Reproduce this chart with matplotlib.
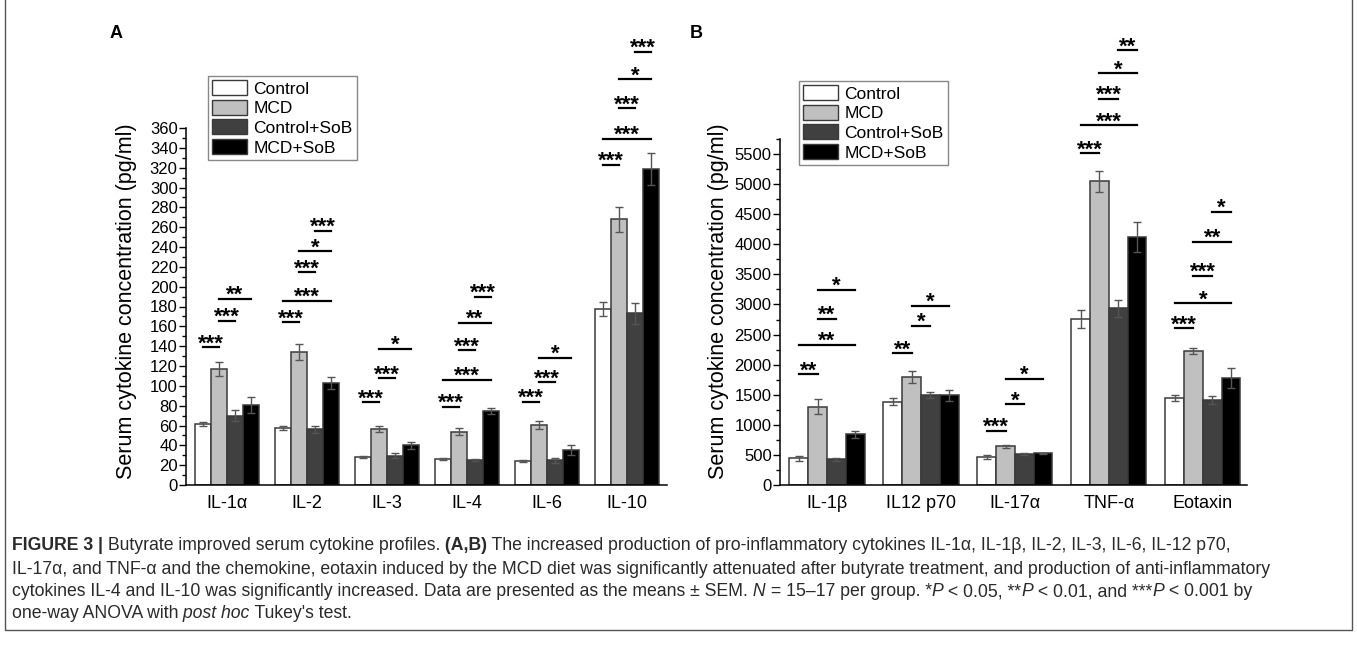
import numpy as np
import matplotlib
matplotlib.use("Agg")
from matplotlib import pyplot as plt
from matplotlib.patches import Patch
from matplotlib.lines import Line2D

# ---- data ----
groups = ["Control", "MCD", "Control+SoB", "MCD+SoB"]
colors = ["#ffffff", "#c0c0c0", "#404040", "#000000"]

cyto_a = ["IL-1α", "IL-2", "IL-3", "IL-4", "IL-6", "IL-10"]
mean_a = [
    [62, 57, 28.5, 26, 24.3, 177.5],     # Control
    [117, 134, 56, 53.6, 60.4, 268],     # MCD
    [70, 56, 29.4, 25.5, 25, 173],       # Control+SoB
    [81, 103, 40, 75, 35.4, 319],        # MCD+SoB
]
sem_a = [
    [2, 2, 1, 1, 1, 6.7],
    [7.5, 7.8, 3, 3.4, 4.4, 12.8],
    [5.5, 4, 2.5, 1, 2.5, 10.8],
    [8, 5.7, 3.4, 3, 5, 16],
]
# (cytokine index, group i, group j, line height, label)
sig_a = [
    (0, 0, 1, 139, "***"), (0, 1, 2, 165.7, "***"), (0, 1, 3, 188, "**"),
    (1, 0, 1, 164, "***"), (1, 0, 3, 186, "***"), (1, 1, 2, 214.5, "***"),
    (1, 1, 3, 235.7, "*"), (1, 2, 3, 256.6, "***"),
    (2, 0, 1, 83.5, "***"), (2, 1, 2, 107.4, "***"), (2, 1, 3, 137.4, "*"),
    (3, 0, 1, 79, "***"), (3, 0, 3, 106, "***"), (3, 1, 2, 135.7, "***"),
    (3, 1, 3, 163.3, "**"), (3, 2, 3, 190, "***"),
    (4, 0, 1, 84, "***"), (4, 1, 2, 103.7, "***"), (4, 1, 3, 128, "*"),
    (5, 0, 1, 323, "***"), (5, 0, 3, 349, "***"), (5, 1, 2, 380, "***"),
    (5, 1, 3, 409, "*"), (5, 2, 3, 437, "***"),
]

cyto_b = ["IL-1β", "IL12 p70", "IL-17α", "TNF-α", "Eotaxin"]
mean_b = [
    [443, 1384, 470, 2763, 1445],
    [1301, 1789, 642, 5050, 2226],
    [427, 1495, 515, 2935, 1412],
    [842, 1490, 526, 4120, 1777],
]
sem_b = [
    [39, 55, 35, 150, 53],
    [125, 100, 20, 174, 55],
    [25, 52, 15, 138, 64],
    [63, 88, 10, 250, 160],
]
sig_b = [
    (0, 0, 1, 1838, "**"), (0, 0, 3, 2326, "**"), (0, 1, 2, 2757, "**"), (0, 1, 3, 3239, "*"),
    (1, 0, 1, 2187, "**"), (1, 1, 2, 2641, "*"), (1, 1, 3, 2979, "*"),
    (2, 0, 1, 902, "***"), (2, 1, 2, 1340, "*"), (2, 1, 3, 1761, "*"),
    (3, 0, 1, 5510, "***"), (3, 0, 3, 5975, "***"), (3, 1, 2, 6423, "***"),
    (3, 1, 3, 6839, "*"), (3, 2, 3, 7221, "**"),
    (4, 0, 1, 2602, "***"), (4, 0, 3, 3018, "*"), (4, 1, 2, 3472, "***"),
    (4, 1, 3, 4042, "**"), (4, 2, 3, 4535, "*"),
]

caption = [
    [("FIGURE 3 |", "bold"), (" Butyrate improved serum cytokine profiles.", "normal"), (" (A,B)", "bold"),
     (" The increased production of pro-inflammatory cytokines IL-1α, IL-1β, IL-2, IL-3, IL-6, IL-12 p70,", "normal")],
    [("IL-17α, and TNF-α and the chemokine, eotaxin induced by the MCD diet was significantly attenuated "
      "after butyrate treatment, and production of anti-inflammatory", "normal")],
    [("cytokines IL-4 and IL-10 was significantly increased. Data are presented as the means ± SEM.", "normal"),
     (" N", "italic"), (" = 15–17 per group. *", "normal"), ("P", "italic"), (" < 0.05, **", "normal"),
     ("P", "italic"), (" < 0.01, and ***", "normal"), ("P", "italic"), (" < 0.001 by", "normal")],
    [("one-way ANOVA with", "normal"), (" post hoc", "italic"), (" Tukey's test.", "normal")],
]

plt.rcParams["font.family"] = ["Liberation Sans", "DejaVu Sans"]

W, H = 1357, 654
fig = plt.figure(figsize=(W / 100, H / 100), dpi=100)

offsets = np.array([-0.3, -0.1, 0.1, 0.3])
bw = 0.2


def panel(rect, cats, means, sems, sigs, ylim, major, minor):
    ax = fig.add_axes(rect)
    x = np.arange(len(cats))
    for k in range(4):
        ax.bar(x + offsets[k], means[k], bw, yerr=sems[k], color=colors[k],
               edgecolor="#3a3a3a", linewidth=1.1, zorder=2,
               error_kw=dict(ecolor="#555555", elinewidth=1, capsize=3, capthick=1))
    for c, i, j, h, lab in sigs:
        x0, x1 = c + offsets[i], c + offsets[j]
        ax.add_line(Line2D([x0, x1], [h, h], color="black", lw=1.6, clip_on=False))
        ax.annotate(lab, xy=((x0 + x1) / 2, h), xytext=(0, -1.5), textcoords="offset points",
                    ha="center", va="baseline", fontsize=16, fontweight="bold",
                    annotation_clip=False)
    ax.set_ylim(*ylim)
    ax.set_yticks(np.arange(0, ylim[1] + 1, major))
    ax.set_yticks(np.arange(0, ylim[1] + 1, minor), minor=True)
    ax.set_xticks(x)
    ax.set_xticklabels(cats, fontsize=13)
    ax.tick_params(axis="x", length=0, pad=7)
    ax.tick_params(axis="y", which="major", length=5, width=1, labelsize=12, pad=1)
    ax.tick_params(axis="y", which="minor", length=3, width=1)
    for s in ("top", "right"):
        ax.spines[s].set_visible(False)
    for s in ("left", "bottom"):
        ax.spines[s].set_linewidth(1.1)
    ax.set_ylabel("Serum cytokine concentration (pg/ml)", fontsize=15.5)
    return ax


ax_a = panel([186 / W, 1 - 485 / H, 481 / W, 357 / H], cyto_a, mean_a, sem_a, sig_a,
             (0, 360), 20, 10)
ax_a.set_xlim(-0.51, 5.5)
ax_a.yaxis.set_label_coords(-0.102, 0.515)

ax_b = panel([780 / W, 1 - 485 / H, 467 / W, 346 / H], cyto_b, mean_b, sem_b, sig_b,
             (0, 5750), 500, 250)
ax_b.set_xlim(-0.5, 4.47)
ax_b.set_yticks(np.arange(0, 5501, 500))
ax_b.yaxis.set_label_coords(-0.11, 0.531)

handles = [Patch(facecolor=colors[k], edgecolor="#3a3a3a", linewidth=1, label=groups[k]) for k in range(4)]
for anchor in [(208 / W, 1 - 76 / H), (799 / W, 1 - 81 / H)]:
    fig.legend(handles=handles, loc="upper left", bbox_to_anchor=anchor, fontsize=12.5,
               frameon=True, fancybox=False, edgecolor="#888888", framealpha=1,
               handlelength=2.0, handleheight=0.95, handletextpad=0.35,
               labelspacing=0.18, borderpad=0.25, borderaxespad=0)

fig.text(110 / W, 1 - 34 / H, "A", fontsize=13, fontweight="bold", va="center")
fig.text(690 / W, 1 - 34 / H, "B", fontsize=13, fontweight="bold", va="center")

# caption box
cap = fig.add_axes([0, 0, 1, 1])
cap.set_xlim(0, W)
cap.set_ylim(H, 0)
cap.axis("off")
cap.plot([5, 5, 1352, 1352], [0, 630, 630, 0], color="#555555", lw=1)

line_y = [546, 569, 592, 614]
for segs, y in zip(caption, line_y):
    prev = None
    for txt, style in segs:
        kw = dict(fontsize=12.7, color="#2a2a2a",
                  fontweight="bold" if style == "bold" else "normal",
                  fontstyle="italic" if style == "italic" else "normal")
        if prev is None:
            prev = cap.text(12, y, txt, va="center", ha="left", **kw)
        else:
            prev = cap.annotate(txt, xy=(1, 0), xycoords=prev, va="bottom", ha="left", **kw)

fig.savefig("out.png", dpi=100)
